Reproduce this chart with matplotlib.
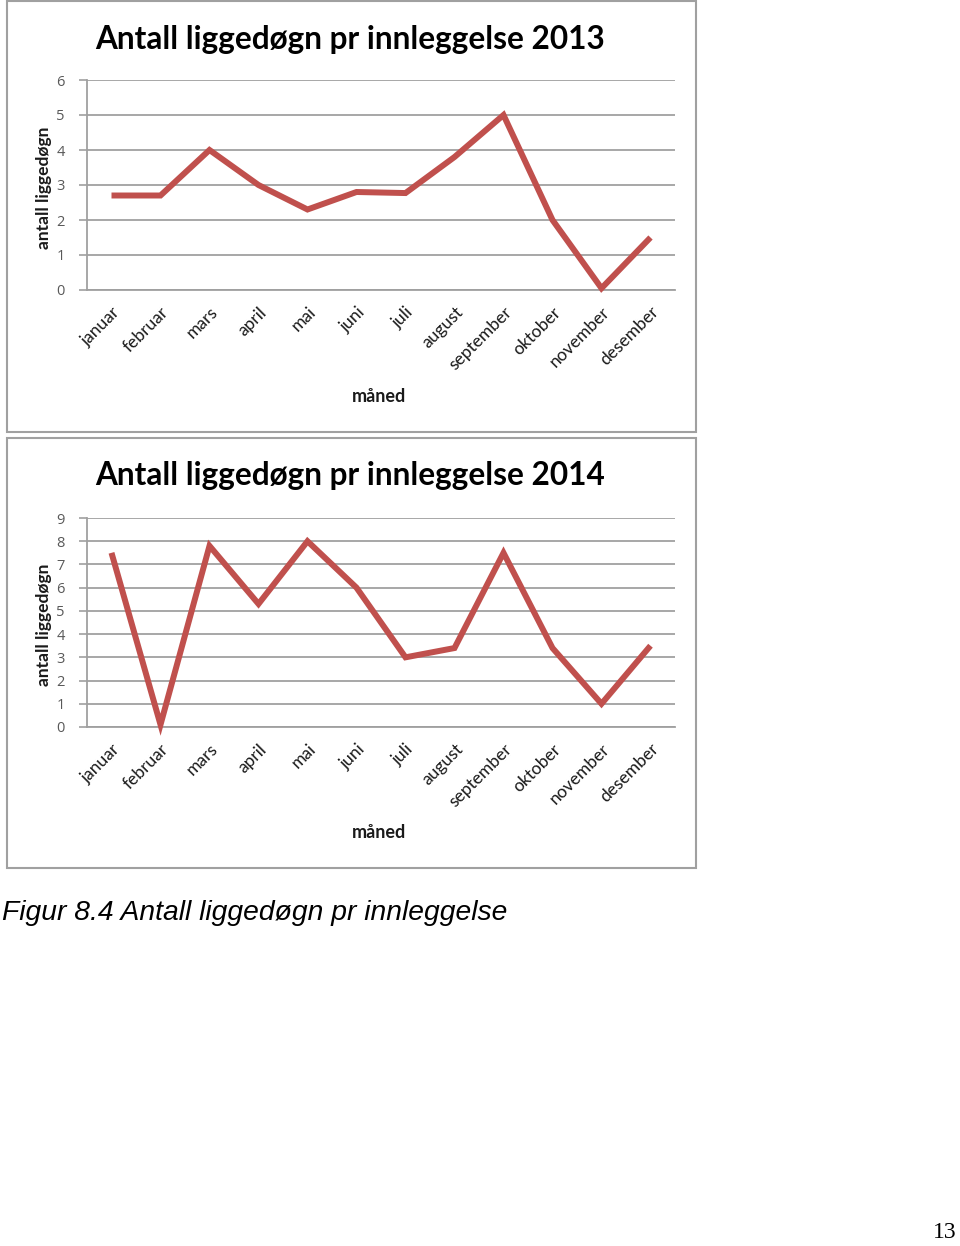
import matplotlib
matplotlib.use("Agg")
import matplotlib.pyplot as plt
from matplotlib.patches import Rectangle

months = ["januar", "februar", "mars", "april", "mai", "juni", "juli",
          "august", "september", "oktober", "november", "desember"]
values_2013 = [2.7, 2.7, 4.0, 3.0, 2.3, 2.8, 2.77, 3.8, 5.0, 2.0, 0.05, 1.5]
values_2014 = [7.5, 0.1, 7.8, 5.3, 8.0, 6.0, 3.0, 3.4, 7.5, 3.4, 1.0, 3.5]
yticks_2013 = [0, 1, 2, 3, 4, 5, 6]
yticks_2014 = [0, 1, 2, 3, 4, 5, 6, 7, 8, 9]
titles = ["Antall liggedøgn pr innleggelse 2013", "Antall liggedøgn pr innleggelse 2014"]
ylabel = "antall liggedøgn"
xlabel = "måned"
caption = "Figur 8.4 Antall liggedøgn pr innleggelse"
page_no = "13"

W, H = 960, 1246
fig = plt.figure(figsize=(W / 100, H / 100), dpi=100)
fig.patch.set_facecolor("white")

LINE = "#c0504d"
GRID = "#a0a0a0"
FONT = "Lato"

def fx(px):
    return px / W

def fy(py):
    return 1 - py / H

def chart(box_top, box_bot, ax_top, ax_bot, title_y, xlabel_y, vals, yt, title):
    fig.add_artist(Rectangle((fx(7), fy(box_bot)), fx(696) - fx(7), fy(box_top) - fy(box_bot),
                             transform=fig.transFigure, fill=False, edgecolor="#a0a0a0", lw=1.5))
    ax = fig.add_axes([fx(87), fy(ax_bot), fx(675) - fx(87), fy(ax_top) - fy(ax_bot)])
    x = list(range(len(months)))
    ax.plot(x, vals, color=LINE, lw=4.3, solid_joinstyle="miter", solid_capstyle="butt", zorder=3,
            clip_on=False)
    ax.set_xlim(-0.5, len(months) - 0.5)
    ax.set_ylim(yt[0], yt[-1])
    ax.set_yticks(yt)
    ax.set_yticklabels([str(v) for v in yt], fontfamily="Open Sans", fontsize=10.5, color="#595959")
    ax.yaxis.grid(True, color=GRID, lw=1.3)
    ax.set_axisbelow(True)
    ax.tick_params(axis="y", length=6, color=GRID, width=1.2, pad=10)
    ax.tick_params(axis="x", length=0, pad=10)
    ax.set_xticks(x)
    ax.set_xticklabels(months, rotation=45, ha="right", va="top", rotation_mode="anchor",
                       fontfamily=FONT, fontsize=12.5, color="#1a1a1a")
    for lbl in ax.get_xticklabels():
        lbl.set_x(lbl.get_position()[0])
    for s in ["top", "right"]:
        ax.spines[s].set_visible(False)
    ax.spines["left"].set_color(GRID)
    ax.spines["left"].set_linewidth(1.3)
    ax.spines["bottom"].set_color(GRID)
    ax.spines["bottom"].set_linewidth(1.3)
    fig.text(fx(44), (fy(ax_top) + fy(ax_bot)) / 2 - 0.002, ylabel, rotation=90, ha="center", va="center",
             fontfamily=FONT, fontweight="bold", fontsize=12.5, color="#1a1a1a")
    fig.text(fx(379), fy(xlabel_y), xlabel, ha="center", va="center",
             fontfamily=FONT, fontweight="bold", fontsize=13, color="#1a1a1a")
    fig.text(fx(350), fy(title_y), title, ha="center", va="center",
             fontfamily=FONT, fontweight="bold", fontsize=22.7, color="#000000")
    return ax

chart(1, 432, 80, 290, 40, 396, values_2013, yticks_2013, titles[0])
chart(438, 868, 518, 727, 476, 832, values_2014, yticks_2014, titles[1])

fig.text(fx(2), fy(913), caption, ha="left", va="center", fontfamily="Liberation Sans",
         fontstyle="italic", fontsize=20.3, color="#000000")
fig.text(fx(957), fy(1233), page_no, ha="right", va="center", fontfamily="Liberation Serif",
         fontsize=17, color="#000000")

fig.savefig("out.png", dpi=100, facecolor="white")
